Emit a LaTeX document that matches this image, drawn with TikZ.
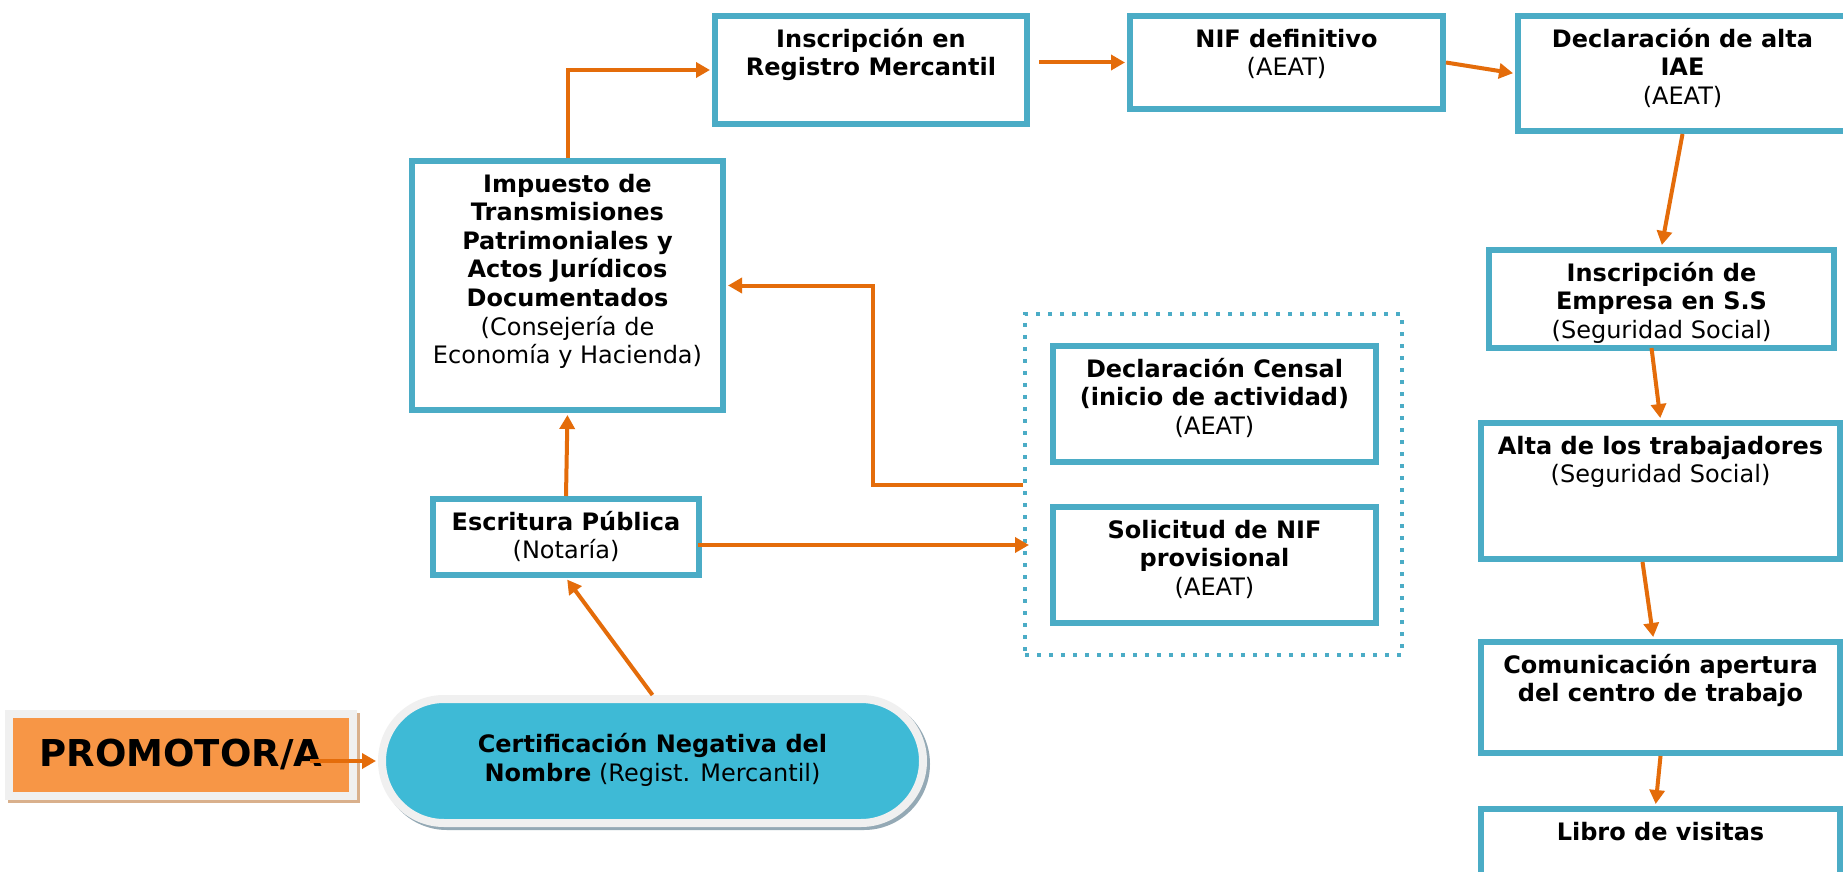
\documentclass[tikz,border=0pt]{standalone}
\usepackage{fontspec}
\setmainfont{DejaVu Sans}
\usetikzlibrary{arrows.meta,calc,shapes.misc}
\definecolor{bord}{HTML}{4BACC6}
\definecolor{arr}{HTML}{E46C0A}
\definecolor{cyanfill}{HTML}{3EBAD6}
\definecolor{ring}{HTML}{F0F0F0}
\definecolor{shad}{HTML}{94A9B5}
\definecolor{promfill}{HTML}{F79646}
\definecolor{promshad}{HTML}{D9B08C}
\newcommand{\bx}[3]{\begin{minipage}[c][#2][t]{#1}\centering\null\vspace{1.3pt}#3\end{minipage}}
\begin{document}
\begin{tikzpicture}[x=0.5pt,y=-0.5pt,
  stepbox/.style={draw=bord, line width=3pt, fill=white, inner sep=0pt, rectangle, font=\fontsize{12}{14.3}\selectfont},
  groupbox/.style={draw=bord, line width=2pt, dash pattern=on 2pt off 4pt, inner sep=0pt, rectangle},
  flow/.style={draw=arr, line width=2pt, -{Triangle[length=7pt,width=7.5pt]}, shorten >=1pt},
  certbox/.style={rounded rectangle, fill=cyanfill, draw=ring, line width=4pt, inner sep=0pt,
    minimum width=270.5pt, minimum height=62pt, font=\fontsize{12}{14.3}\selectfont,
    preaction={draw=shad, line width=4pt, transform canvas={shift={(1.5pt,-1.5pt)}}}},
  prombox/.style={rectangle, fill=promfill, draw=ring, line width=4pt, inner sep=0pt,
    minimum width=172pt, minimum height=41pt, font=\fontsize{18.5}{22}\selectfont\bfseries,
    preaction={draw=promshad, fill=promshad, line width=4pt, transform canvas={shift={(1.5pt,-1.5pt)}}}}]
\useasboundingbox (0,0) rectangle (1843,872);
\fill[white] (0,0) rectangle (1843,872);
\clip (0,0) rectangle (1843,872);

% dotted group
\node[groupbox, minimum width=188.5pt, minimum height=170.5pt] (grp) at (1213.5,484.5) {};

% boxes
\node[stepbox] (ins) at (871,70) {\bx{156pt}{54pt}{\bfseries Inscripción en\\Registro Mercantil}};
\node[stepbox] (nif) at (1286.5,62.5) {\bx{156.5pt}{46.5pt}{\textbf{NIF definitivo}\\(AEAT)}};
\node[stepbox] (decl) at (1682.5,73.5) {\bx{164.5pt}{57.5pt}{\textbf{Declaración de alta}\\\textbf{IAE}\\(AEAT)}};
\node[stepbox] (imp) at (567.5,285.5) {\bx{155.5pt}{124.5pt}{\textbf{Impuesto de}\\\textbf{Transmisiones}\\\textbf{Patrimoniales y}\\\textbf{Actos Jurídicos}\\\textbf{Documentados}\\(Consejería de\\Economía y Hacienda)}};
\node[stepbox] (emp) at (1661.5,299) {\bx{172.5pt}{49pt}{\textbf{Inscripción de}\\\textbf{Empresa en S.S}\\(Seguridad Social)}};
\node[stepbox] (alta) at (1660.5,491) {\bx{179.5pt}{68pt}{\textbf{Alta de los trabajadores}\\(Seguridad Social)}};
\node[stepbox] (comun) at (1660.5,697.5) {\bx{179.5pt}{55.5pt}{\textbf{Comunicación apertura}\\\textbf{del centro de trabajo}}};
\node[stepbox] (libro) at (1660.5,843) {\bx{179.5pt}{34pt}{\textbf{Libro de visitas}}};
\node[stepbox] (esc) at (566,537) {\bx{133pt}{38pt}{\textbf{Escritura Pública}\\(Notaría)}};
\node[stepbox] (cens) at (1214.5,404) {\bx{161.5pt}{58pt}{\textbf{Declaración Censal}\\\textbf{(inicio de actividad)}\\(AEAT)}};
\node[stepbox] (sol) at (1214.5,565) {\bx{161.5pt}{58pt}{\textbf{Solicitud de NIF}\\\textbf{provisional}\\(AEAT)}};

\node[certbox] (cert) at (652.5,761) {\raisebox{1.3pt}{\begin{tabular}{@{}c@{}}\textbf{Certificación Negativa del}\\\textbf{Nombre} (Regist. Mercantil)\end{tabular}}};
\node[prombox] (prom) at (181,755) {\raisebox{1.8pt}{PROMOTOR/A}};

% connectors
\draw[flow] ($(prom.east |- cert.west)+(-47,0)$) -- (cert.west);
\draw[flow] (cert.north) -- (esc.south);
\draw[flow] (esc.north) -- (imp.south);
\draw[flow] (imp.north) |- (ins.west);
\draw[flow] ($(ins.east |- nif.west)+(9,0)$) -- (nif.west);
\draw[flow] (nif.east) -- (decl.west);
\draw[flow] (decl.south) -- (emp.north);
\draw[flow] ($(emp.south)+(-10,-3)$) -- (alta.north);
\draw[flow] ($(alta.south)+(-18,0)$) -- ($(comun.north)+(-7,0)$);
\draw[flow] (comun.south) -- ($(libro.north)+(-5,0)$);
\draw[flow] ($(esc.east)+(-4,8)$) -- ($(esc.east -| grp.west)+(8,8)$);
\draw[flow] (grp.west) -- ++(-150,0) |- (imp.east);
\end{tikzpicture}
\end{document}
